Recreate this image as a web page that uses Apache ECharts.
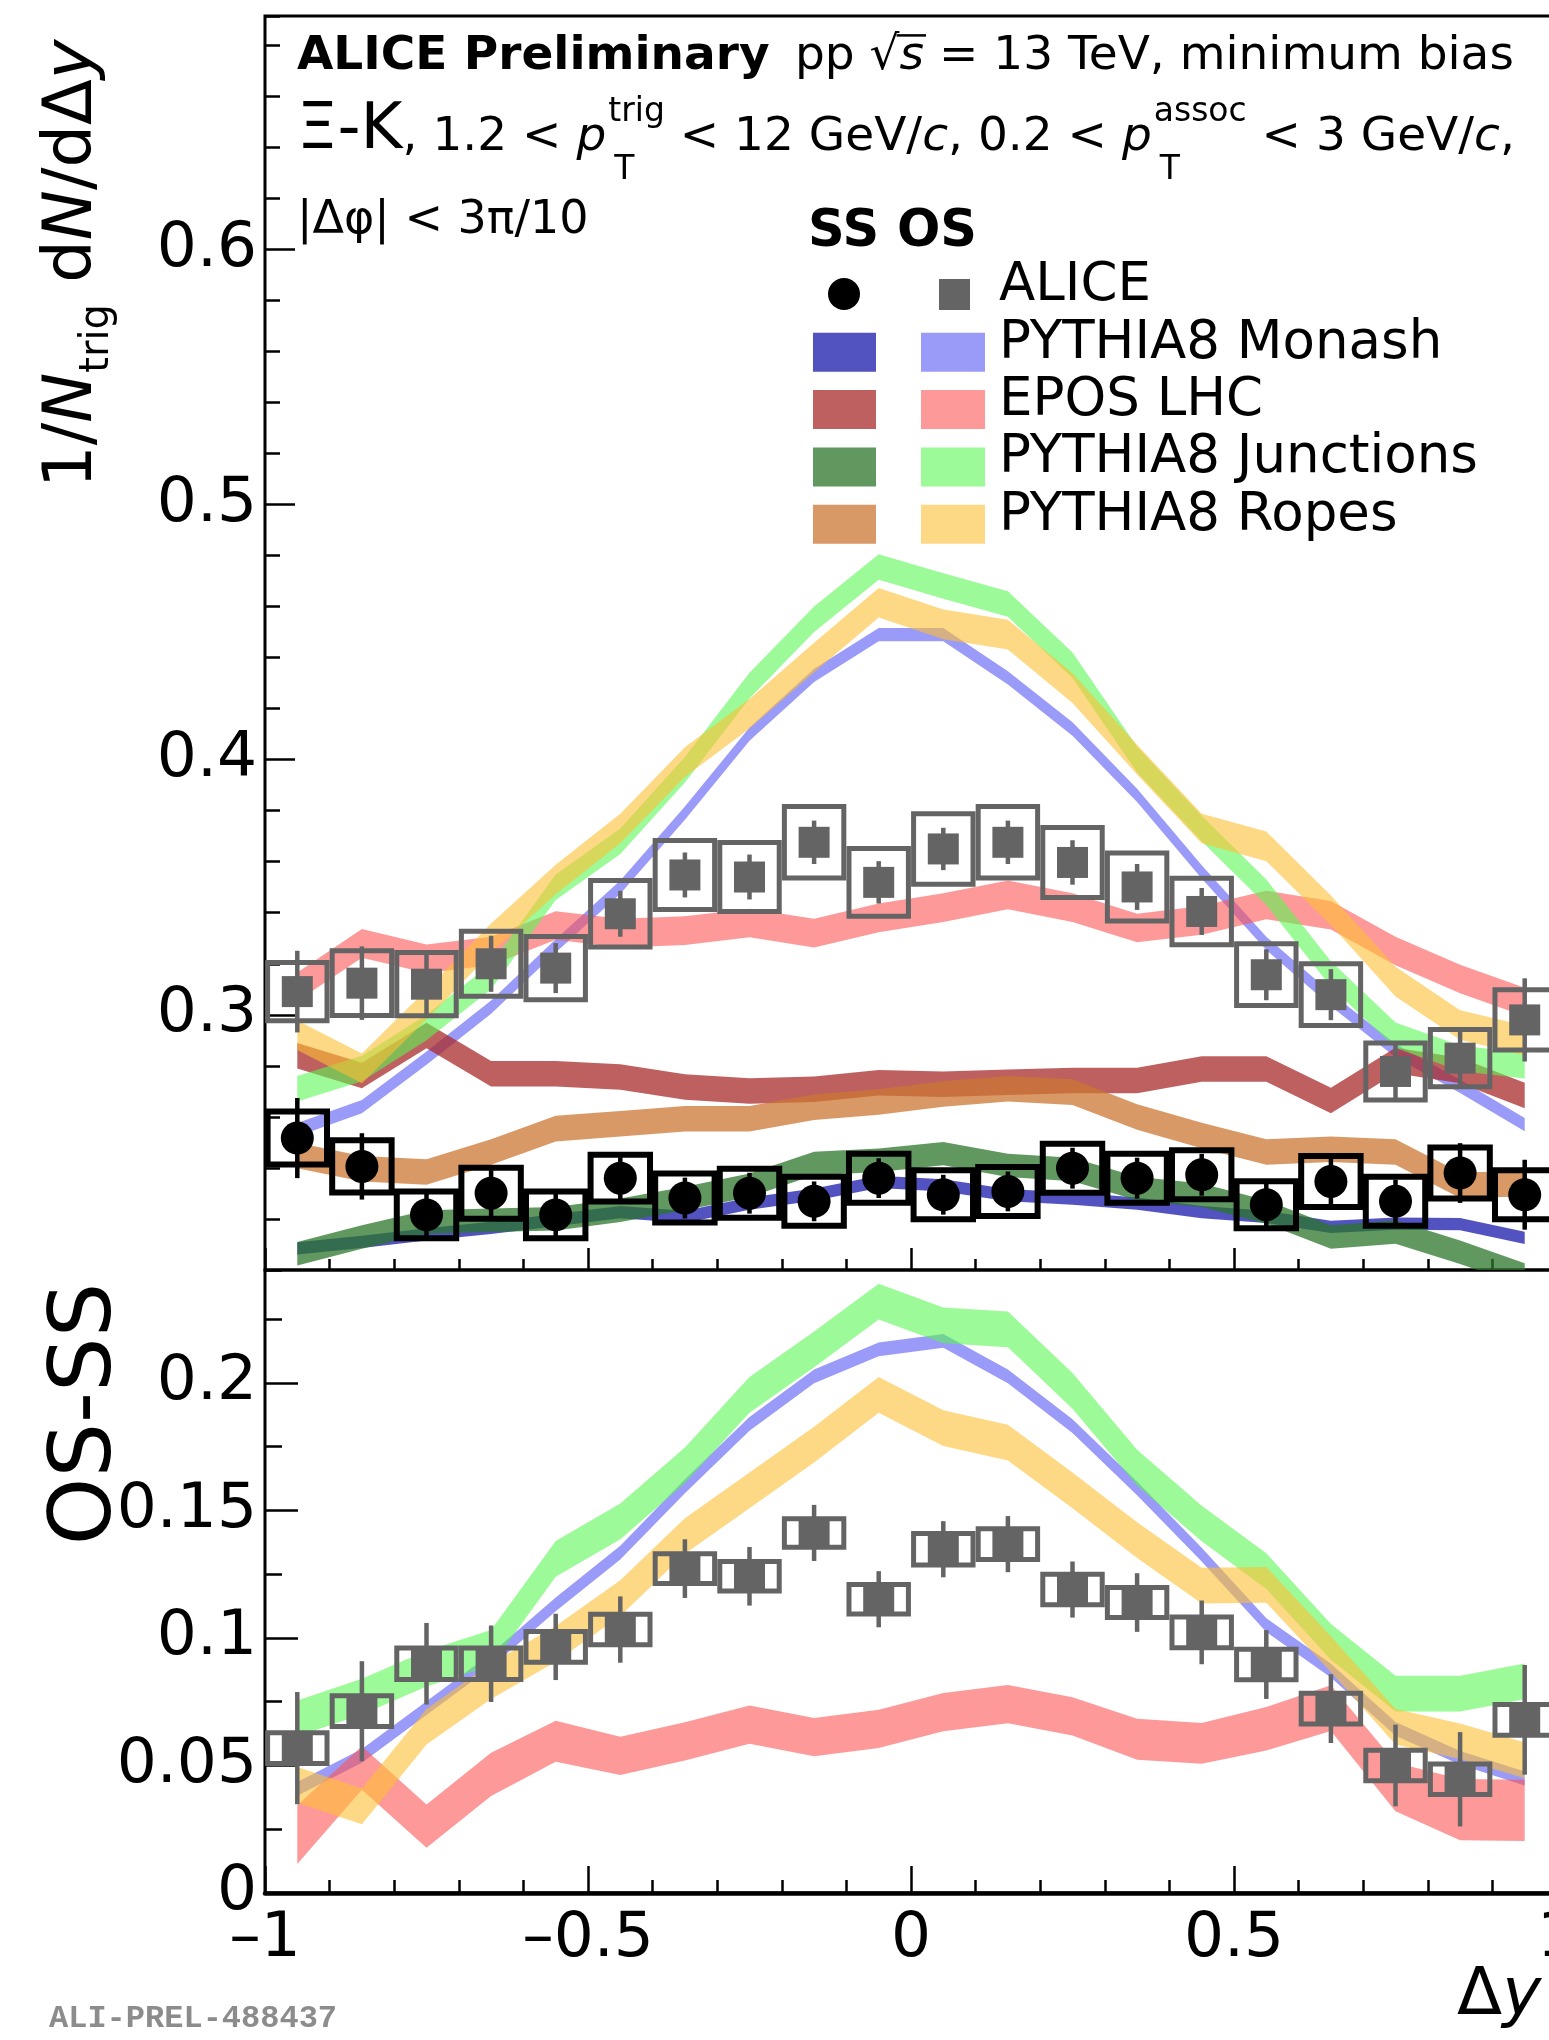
<!DOCTYPE html>
<html>
<head>
<meta charset="utf-8">
<title>Ξ-K correlations versus Δy</title>
<script src="https://cdn.jsdelivr.net/npm/echarts@6/dist/echarts.min.js"></script>
<style>
  html, body { margin: 0; padding: 0; background: #fff; }
  #chart { width: 1549px; height: 2040px; }
</style>
</head>
<body>
<div id="chart"></div>
<script>
// Δy bin centres (bins of width 0.1)
const dyBins = [-0.95, -0.85, -0.75, -0.65, -0.55, -0.45, -0.35, -0.25, -0.15, -0.05,
                0.05, 0.15, 0.25, 0.35, 0.45, 0.55, 0.65, 0.75, 0.85, 0.95];

// ALICE, same-sign (SS) pairs
const ssAlice = [0.2517, 0.2406, 0.2216, 0.2301, 0.2216, 0.2360, 0.2282, 0.2301, 0.2269, 0.2360,
                 0.2295, 0.2308, 0.2399, 0.2360, 0.2373, 0.2256, 0.2347, 0.2269, 0.2380, 0.2295];
const ssStat  = [0.0157, 0.0130, 0.0095, 0.0090, 0.0085, 0.0082, 0.0080, 0.0080, 0.0078, 0.0078,
                 0.0078, 0.0078, 0.0080, 0.0080, 0.0082, 0.0085, 0.0090, 0.0085, 0.0117, 0.0137];
const ssSyst  = [0.0104, 0.0102, 0.0092, 0.0100, 0.0092, 0.0092, 0.0096, 0.0096, 0.0096, 0.0096,
                 0.0096, 0.0096, 0.0096, 0.0096, 0.0096, 0.0092, 0.0100, 0.0096, 0.0100, 0.0096];

// ALICE, opposite-sign (OS) pairs
const osAlice = [0.3091, 0.3124, 0.3120, 0.3200, 0.3183, 0.3396, 0.3548, 0.3540, 0.3676, 0.3519,
                 0.3650, 0.3676, 0.3597, 0.3501, 0.3405, 0.3157, 0.3079, 0.2778, 0.2830, 0.2980];
const osStat  = [0.0160, 0.0144, 0.0125, 0.0110, 0.0098, 0.0090, 0.0088, 0.0088, 0.0085, 0.0083,
                 0.0083, 0.0085, 0.0087, 0.0090, 0.0092, 0.0100, 0.0100, 0.0105, 0.0115, 0.0163];
const osSyst  = [0.0114, 0.0127, 0.0124, 0.0127, 0.0124, 0.0130, 0.0135, 0.0135, 0.0140, 0.0133,
                 0.0138, 0.0140, 0.0137, 0.0133, 0.0130, 0.0121, 0.0121, 0.0112, 0.0112, 0.0118];

// ALICE, OS − SS
const diffAlice = [0.0568, 0.0713, 0.0899, 0.0899, 0.0965, 0.1033, 0.1272, 0.1242, 0.1412, 0.1152,
                   0.1348, 0.1368, 0.1190, 0.1139, 0.1022, 0.0896, 0.0723, 0.0500, 0.0446, 0.0679];
const diffStat  = [0.0220, 0.0196, 0.0160, 0.0150, 0.0130, 0.0130, 0.0115, 0.0115, 0.0110, 0.0110,
                   0.0110, 0.0110, 0.0110, 0.0115, 0.0125, 0.0135, 0.0135, 0.0160, 0.0185, 0.0215];
const diffSyst  = [0.0060, 0.0060, 0.0062, 0.0062, 0.0060, 0.0060, 0.0058, 0.0058, 0.0056, 0.0058,
                   0.0062, 0.0060, 0.0060, 0.0059, 0.0060, 0.0060, 0.0060, 0.0060, 0.0060, 0.0060];

// Generator predictions, SS (band centres)
const ssMonash    = [0.2085, 0.2110, 0.2140, 0.2165, 0.2195, 0.2227, 0.2208, 0.2260, 0.2295, 0.2345,
                     0.2332, 0.2293, 0.2280, 0.2260, 0.2227, 0.2208, 0.2169, 0.2182, 0.2180, 0.2126];
const ssEpos      = [0.2840, 0.2762, 0.2919, 0.2769, 0.2769, 0.2756, 0.2717, 0.2701, 0.2708, 0.2734,
                     0.2728, 0.2736, 0.2743, 0.2743, 0.2788, 0.2788, 0.2664, 0.2821, 0.2782, 0.2684];
const ssJunctions = [0.2064, 0.2129, 0.2188, 0.2195, 0.2201, 0.2234, 0.2280, 0.2332, 0.2417, 0.2430,
                     0.2456, 0.2410, 0.2394, 0.2319, 0.2293, 0.2227, 0.2129, 0.2149, 0.2070, 0.1980];
const ssRopes     = [0.2449, 0.2397, 0.2384, 0.2462, 0.2554, 0.2573, 0.2593, 0.2593, 0.2638, 0.2658,
                     0.2690, 0.2710, 0.2697, 0.2600, 0.2527, 0.2462, 0.2473, 0.2462, 0.2332, 0.2338];

// Generator predictions, OS (band centres)
const osMonash    = [0.255, 0.264, 0.283, 0.303, 0.327, 0.350, 0.379, 0.410, 0.433, 0.449,
                     0.449, 0.432, 0.412, 0.386, 0.356, 0.328, 0.306, 0.286, 0.272, 0.257];
const osEpos      = [0.311, 0.328, 0.322, 0.325, 0.335, 0.332, 0.333, 0.336, 0.332, 0.338,
                     0.342, 0.347, 0.342, 0.334, 0.337, 0.343, 0.339, 0.325, 0.314, 0.305];
const osJunctions = [0.271, 0.279, 0.295, 0.315, 0.350, 0.368, 0.396, 0.429, 0.455, 0.4755,
                     0.468, 0.461, 0.437, 0.400, 0.373, 0.348, 0.316, 0.292, 0.283, 0.280];
const osRopes     = [0.292, 0.279, 0.304, 0.330, 0.353, 0.373, 0.399, 0.418, 0.440, 0.4615,
                     0.453, 0.449, 0.428, 0.400, 0.373, 0.366, 0.341, 0.313, 0.296, 0.290];

// Generator predictions, OS − SS (band centres)
const diffMonash    = [0.0408, 0.0538, 0.0725, 0.0912, 0.1132, 0.1335, 0.1595, 0.1840, 0.2026, 0.2132,
                       0.2165, 0.2026, 0.1831, 0.1587, 0.1327, 0.1050, 0.0872, 0.0644, 0.0530, 0.0449];
const diffEpos      = [0.0229, 0.0490, 0.0262, 0.0465, 0.0595, 0.0538, 0.0595, 0.0660, 0.0611, 0.0644,
                       0.0709, 0.0741, 0.0693, 0.0603, 0.0587, 0.0644, 0.0725, 0.0416, 0.0327, 0.0324];
const diffJunctions = [0.0685, 0.0770, 0.0880, 0.0961, 0.1310, 0.1457, 0.1677, 0.1953, 0.2132, 0.2319,
                       0.2226, 0.2210, 0.1969, 0.1668, 0.1449, 0.1262, 0.0985, 0.0782, 0.0782, 0.0830];
const diffRopes     = [0.0424, 0.0340, 0.0652, 0.0831, 0.0977, 0.1156, 0.1400, 0.1579, 0.1758, 0.1953,
                       0.1823, 0.1766, 0.1579, 0.1384, 0.1205, 0.1208, 0.0937, 0.0652, 0.0595, 0.0520];

// Half-widths of the generator bands (statistical uncertainty)
const ssMonashErr = 0.0024, ssEposErr = 0.0050, ssJunctionsErr = 0.0046, ssRopesErr = 0.0050;
const osMonashErr = 0.0026, osEposErr = 0.0056, osJunctionsErr = 0.0050, osRopesErr = 0.0058;
const diffMonashErr = 0.0027, diffJunctionsErr = 0.0070, diffRopesErr = 0.0070;
const diffEposErr = [0.0115, 0.0085, 0.0085, 0.0085, 0.0080, 0.0075, 0.0075, 0.0075, 0.0075, 0.0075,
                     0.0075, 0.0075, 0.0075, 0.0080, 0.0080, 0.0085, 0.0090, 0.0095, 0.0120, 0.0120];

// Axis ranges and tick steps
const dyRange = [-1, 1];
const topRange = [0.2, 0.6914];
const bottomRange = [0, 0.2443];
const dyMajor = 0.5, dyMinor = 0.1;
const topMajor = 0.1, topMinor = 0.02;
const bottomMajor = 0.05, bottomMinor = 0.025;

// ---------------------------------------------------------------------------
const FONT = '"DejaVu Sans"';
const GRAY = '#646464';
const COLORS = {
  ssMonash: 'rgba(24,24,171,0.75)',   osMonash: 'rgba(87,87,243,0.6)',
  ssEpos: 'rgba(170,43,43,0.75)',     osEpos: 'rgba(253,85,85,0.6)',
  ssJunctions: 'rgba(43,118,43,0.75)', osJunctions: 'rgba(92,247,83,0.6)',
  ssRopes: 'rgba(204,119,51,0.75)',   osRopes: 'rgba(253,192,52,0.6)'
};
const BOX_HALF_WIDTH = 0.046;   // half-width of the systematic boxes, in Δy

const chart = echarts.init(document.getElementById('chart'), null, { renderer: 'canvas' });

// ---- series builders -------------------------------------------------------
function band(name, centres, half, color, axis) {
  return {
    type: 'custom', name, xAxisIndex: axis, yAxisIndex: axis, z: 2, clip: true, silent: true,
    data: centres.map((c, i) => [dyBins[i], c]),
    renderItem(params, api) {
      if (params.dataIndex !== 0) return null;
      const upper = [], lower = [];
      centres.forEach((c, i) => {
        const h = Array.isArray(half) ? half[i] : half;
        upper.push(api.coord([dyBins[i], c + h]));
        lower.unshift(api.coord([dyBins[i], c - h]));
      });
      return { type: 'polygon', shape: { points: upper.concat(lower) }, style: { fill: color } };
    }
  };
}

function systBoxes(values, syst, color, lw, axis) {
  return {
    type: 'custom', xAxisIndex: axis, yAxisIndex: axis, z: 5, clip: true, silent: true,
    data: values.map((v, i) => [dyBins[i], v, syst[i]]),
    renderItem(params, api) {
      const x = api.value(0), y = api.value(1), s = api.value(2);
      const p0 = api.coord([x - BOX_HALF_WIDTH, y + s]);
      const p1 = api.coord([x + BOX_HALF_WIDTH, y - s]);
      return {
        type: 'rect',
        shape: { x: p0[0], y: p0[1], width: p1[0] - p0[0], height: p1[1] - p0[1] },
        style: { fill: 'none', stroke: color, lineWidth: lw }
      };
    }
  };
}

function statBars(values, stat, color, lw, axis) {
  return {
    type: 'custom', xAxisIndex: axis, yAxisIndex: axis, z: 6, clip: true, silent: true,
    data: values.map((v, i) => [dyBins[i], v, stat[i]]),
    renderItem(params, api) {
      const x = api.value(0), y = api.value(1), e = api.value(2);
      const a = api.coord([x, y + e]), b = api.coord([x, y - e]);
      return { type: 'line', shape: { x1: a[0], y1: a[1], x2: b[0], y2: b[1] },
               style: { stroke: color, lineWidth: lw } };
    }
  };
}

function markers(values, symbol, size, color, axis) {
  return {
    type: 'scatter', xAxisIndex: axis, yAxisIndex: axis, z: 7, silent: true,
    symbol, symbolSize: size, itemStyle: { color, opacity: 1 },
    emphasis: { disabled: true },
    data: values.map((v, i) => [dyBins[i], v])
  };
}

// ---- axes -------------------------------------------------------------------
const tickLine = { color: '#000', width: 2.5 };
const labelBase = { fontFamily: FONT, fontSize: 63, color: '#000' };
const fmtY = v => String(Math.round(v * 1000) / 1000);
const fmtX = v => { const r = Math.round(v * 100) / 100; return (r < 0 ? '\u2013' : '') + Math.abs(r); };

function xAxisDef(grid, step, tickLen, label, line) {
  return {
    gridIndex: grid, type: 'value', min: dyRange[0], max: dyRange[1], interval: step, position: 'bottom',
    axisLine: line ? { show: true, onZero: false, lineStyle: { color: '#000', width: 4.5 } } : { show: false, onZero: false },
    axisTick: { show: true, inside: true, length: tickLen, lineStyle: tickLine },
    axisLabel: label ? Object.assign({ show: true, margin: 15, formatter: fmtX }, labelBase) : { show: false },
    splitLine: { show: false }
  };
}
function yAxisDef(grid, range, step, tickLen, label) {
  return {
    gridIndex: grid, type: 'value', min: range[0], max: range[1], interval: step, position: 'left',
    axisLine: { show: false, onZero: false },
    axisTick: { show: true, inside: true, length: tickLen, lineStyle: tickLine },
    axisLabel: label ? Object.assign({ show: true, margin: 8, formatter: fmtY,
                                       showMinLabel: label.min, showMaxLabel: false }, labelBase)
                     : { show: false },
    splitLine: { show: false }
  };
}

// ---- text helpers (graphic component) --------------------------------------
const measureCtx = document.createElement('canvas').getContext('2d');
const BASE_SHIFT = 0.346;   // em distance between canvas 'middle' and the alphabetic baseline
function fontStr(size, bold, italic, family) {
  return (italic ? 'italic ' : '') + (bold ? 'bold ' : '') + size + 'px ' + (family || FONT);
}
function textW(s, font) { measureCtx.font = font; return measureCtx.measureText(s).width; }
function txt(x, baseline, text, font, size, fill) {
  return {
    type: 'text', x, y: baseline - BASE_SHIFT * size, silent: true,
    style: { text, font, fill: fill || '#000', align: 'left', verticalAlign: 'middle',
             textAlign: 'left', textVerticalAlign: 'middle' }
  };
}
// Lays out a run of text pieces along a baseline; supports italic pieces, overlines
// and stacked super/subscripts.
function textRun(x0, y0, parts, rotation) {
  const children = [];
  let cx = 0;
  parts.forEach(p => {
    const font = fontStr(p.size, p.bold, p.italic, p.family);
    if (p.t) {
      children.push(txt(cx, p.dy || 0, p.t, font, p.size, p.fill));
      const w = textW(p.t, font);
      if (p.over) {
        children.push({ type: 'line', silent: true,
          shape: { x1: cx - 3, y1: -0.80 * p.size, x2: cx + w + 2, y2: -0.80 * p.size },
          style: { stroke: '#000', lineWidth: 2.5 } });
      }
      cx += w;
    }
    let sw = 0;
    if (p.sup) {
      const f = fontStr(p.ss, false, false);
      children.push(txt(cx + (p.supDx || 0), -p.rise, p.sup, f, p.ss));
      sw = Math.max(sw, (p.supDx || 0) + textW(p.sup, f));
    }
    if (p.sub) {
      const f = fontStr(p.ss, false, false);
      children.push(txt(cx + (p.subDx || 0), p.drop, p.sub, f, p.ss));
      sw = Math.max(sw, (p.subDx || 0) + textW(p.sub, f));
    }
    cx += sw;
  });
  return { type: 'group', x: x0, y: y0, rotation: rotation || 0, children };
}

// ---- legend -----------------------------------------------------------------
const legendRows = [
  { label: 'PYTHIA8 Monash',    ss: COLORS.ssMonash,    os: COLORS.osMonash },
  { label: 'EPOS LHC',          ss: COLORS.ssEpos,      os: COLORS.osEpos },
  { label: 'PYTHIA8 Junctions', ss: COLORS.ssJunctions, os: COLORS.osJunctions },
  { label: 'PYTHIA8 Ropes',     ss: COLORS.ssRopes,     os: COLORS.osRopes }
];
const LEG_TEXT_X = 999, LEG_FIRST_BASE = 305, LEG_STEP = 57.3, LEG_SIZE = 53;
const legendEls = [
  textRun(808, 250, [{ t: 'SS OS', size: 51, bold: true }]),
  { type: 'circle', silent: true, shape: { cx: 844, cy: 294, r: 16 }, style: { fill: '#000' } },
  { type: 'rect', silent: true, shape: { x: 939, y: 279, width: 31, height: 31 }, style: { fill: GRAY } },
  textRun(LEG_TEXT_X, LEG_FIRST_BASE, [{ t: 'ALICE', size: LEG_SIZE }])
];
legendRows.forEach((r, i) => {
  const base = LEG_FIRST_BASE + LEG_STEP * (i + 1);
  const cy = base - 10;
  legendEls.push({ type: 'rect', silent: true, shape: { x: 813, y: cy - 19.5, width: 63, height: 39 }, style: { fill: r.ss } });
  legendEls.push({ type: 'rect', silent: true, shape: { x: 921, y: cy - 19.5, width: 64, height: 39 }, style: { fill: r.os } });
  legendEls.push(textRun(LEG_TEXT_X, base, [{ t: r.label, size: LEG_SIZE }]));
});

// ---- headers and axis titles ------------------------------------------------
const M = 47, S = 33;
const osssFont = fontStr(86);
const headerEls = [
  textRun(297, 73, [{ t: 'ALICE Preliminary', size: M, bold: true }]),
  textRun(795, 73, [{ t: 'pp ', size: M }, { t: '\u221A', size: M }, { t: 's', size: M, italic: true, over: true },
                    { t: ' = 13 TeV, minimum bias', size: M }]),
  textRun(297, 154, [
    { t: '\u039E-K', size: 64 },
    { t: ', 1.2 < ', size: M },
    { t: 'p', size: M, italic: true, sup: 'trig', sub: 'T', ss: S, rise: 30, drop: 28, supDx: 2, subDx: 8 },
    { t: ' < 12 GeV/', size: M }, { t: 'c', size: M, italic: true },
    { t: ', 0.2 < ', size: M },
    { t: 'p', size: M, italic: true, sup: 'assoc', sub: 'T', ss: S, rise: 30, drop: 28, supDx: 2, subDx: 8 },
    { t: ' < 3 GeV/', size: M }, { t: 'c', size: M, italic: true }, { t: ',', size: M }
  ]),
  textRun(297, 237, [{ t: '|\u0394\u03C6| < 3\u03C0/10', size: 46 }]),
  textRun(1457, 2020, [{ t: '\u0394', size: 66 }, { t: 'y', size: 66, italic: true }]),
  textRun(49, 2030, [{ t: 'ALI-PREL-488437', size: 32, bold: true, family: '"Liberation Mono"', fill: '#8c8c8c' }]),
  textRun(97, 488, [
    { t: '1/', size: 67 },
    { t: 'N', size: 67, italic: true, sub: 'trig', ss: 40, drop: 14, subDx: 0 },
    { t: ' d', size: 67 }, { t: 'N', size: 67, italic: true }, { t: '/d\u0394', size: 67 }, { t: 'y', size: 67, italic: true }
  ], Math.PI / 2),
  { type: 'group', x: 117, y: 1414, rotation: Math.PI / 2,
    children: [txt(-textW('OS-SS', osssFont) / 2, 0, 'OS-SS', osssFont, 86)] }
];

// ---- option -----------------------------------------------------------------
const TOP = 0, BOT = 2;
const option = {
  animation: false,
  backgroundColor: '#fff',
  textStyle: { fontFamily: FONT },
  grid: [
    { left: 265, top: 16, width: 1292, height: 1254, show: true, borderColor: '#000', borderWidth: 3,
      backgroundColor: 'transparent', containLabel: false, outerBoundsMode: 'none' },
    { left: 265, top: 1270, width: 1292, height: 623, show: true, borderColor: '#000', borderWidth: 3,
      backgroundColor: 'transparent', containLabel: false, outerBoundsMode: 'none' }
  ],
  xAxis: [
    xAxisDef(0, dyMajor, 22, false, false),
    xAxisDef(0, dyMinor, 11, false, false),
    xAxisDef(1, dyMajor, 27, true, true),
    xAxisDef(1, dyMinor, 13, false, false)
  ],
  yAxis: [
    yAxisDef(0, topRange, topMajor, 30, { min: false }),
    yAxisDef(0, topRange, topMinor, 15, null),
    yAxisDef(1, bottomRange, bottomMajor, 33, { min: true }),
    yAxisDef(1, bottomRange, bottomMinor, 17, null)
  ],
  series: [
    // upper panel: generator bands
    band('SS PYTHIA8 Monash', ssMonash, ssMonashErr, COLORS.ssMonash, TOP),
    band('OS PYTHIA8 Monash', osMonash, osMonashErr, COLORS.osMonash, TOP),
    band('SS EPOS LHC', ssEpos, ssEposErr, COLORS.ssEpos, TOP),
    band('OS EPOS LHC', osEpos, osEposErr, COLORS.osEpos, TOP),
    band('SS PYTHIA8 Junctions', ssJunctions, ssJunctionsErr, COLORS.ssJunctions, TOP),
    band('OS PYTHIA8 Junctions', osJunctions, osJunctionsErr, COLORS.osJunctions, TOP),
    band('SS PYTHIA8 Ropes', ssRopes, ssRopesErr, COLORS.ssRopes, TOP),
    band('OS PYTHIA8 Ropes', osRopes, osRopesErr, COLORS.osRopes, TOP),
    // upper panel: ALICE data
    systBoxes(osAlice, osSyst, GRAY, 5, TOP),
    systBoxes(ssAlice, ssSyst, '#000', 6, TOP),
    statBars(osAlice, osStat, GRAY, 4.5, TOP),
    statBars(ssAlice, ssStat, '#000', 4.5, TOP),
    markers(osAlice, 'rect', 31, GRAY, TOP),
    markers(ssAlice, 'circle', 33, '#000', TOP),
    // lower panel: OS - SS
    band('PYTHIA8 Monash', diffMonash, diffMonashErr, COLORS.osMonash, BOT),
    band('EPOS LHC', diffEpos, diffEposErr, COLORS.osEpos, BOT),
    band('PYTHIA8 Junctions', diffJunctions, diffJunctionsErr, COLORS.osJunctions, BOT),
    band('PYTHIA8 Ropes', diffRopes, diffRopesErr, COLORS.osRopes, BOT),
    systBoxes(diffAlice, diffSyst, GRAY, 5, BOT),
    statBars(diffAlice, diffStat, GRAY, 4.5, BOT),
    markers(diffAlice, 'rect', 31, GRAY, BOT)
  ],
  graphic: { elements: headerEls.concat(legendEls) }
};
chart.setOption(option);
</script>
</body>
</html>
